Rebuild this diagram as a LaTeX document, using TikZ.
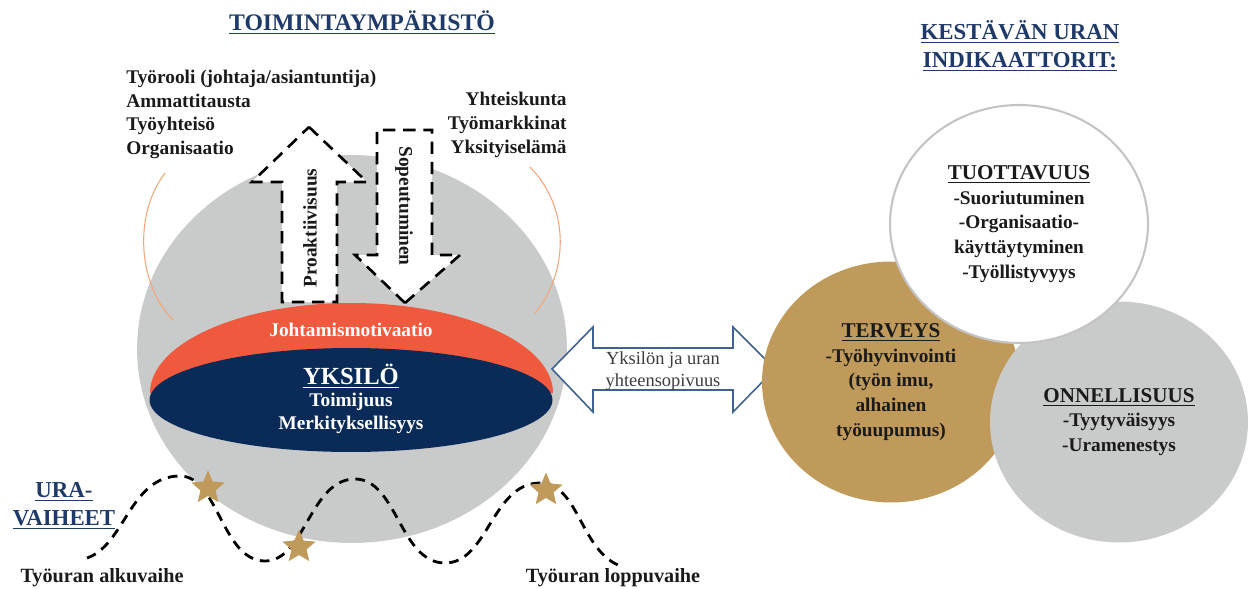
\documentclass[tikz,border=0pt]{standalone}
\usepackage{fontspec}
\setmainfont{Liberation Serif}
\usepackage{xcolor}
\usepackage{tikz}
\usetikzlibrary{shapes.geometric}
\definecolor{bubble}{HTML}{C9CACA}
\definecolor{drive}{HTML}{EF5A3F}
\definecolor{selfblue}{HTML}{0A2B58}
\definecolor{gold}{HTML}{C09A5B}
\definecolor{titleblue}{HTML}{1F3A68}
\definecolor{fitblue}{HTML}{3F6290}
\definecolor{arcline}{HTML}{F2A679}
\definecolor{ring}{HTML}{C4C4C4}
\definecolor{ink}{HTML}{1A1A1A}
\tikzset{
  body/.style={text=ink, font=\bfseries\fontsize{11}{13.5}\selectfont},
  heading/.style={text=titleblue, font=\bfseries\fontsize{13.5}{16}\selectfont, align=center},
  inner/.style={text=white, font=\bfseries\fontsize{11}{13}\selectfont, align=center},
  flowarrow/.style={draw=black, fill=white, line width=1.5pt, dash pattern=on 7pt off 4.5pt, line join=miter},
  fitarrow/.style={draw=fitblue, fill=white, line width=0.9pt, line join=miter},
  wave/.style={draw=black, line width=1.6pt, dash pattern=on 5.5pt off 4pt},
  bracket/.style={draw=arcline, line width=0.6pt},
  goal/.style={ellipse, inner sep=0pt, minimum width=5.16cm, minimum height=4.82cm,
    align=center, text=ink, font=\bfseries\fontsize{11}{14}\selectfont},
  prize/.style={star, star points=5, star point ratio=2.2, fill=gold, inner sep=0pt, minimum size=0.7cm}
}
\newcommand{\goalhead}[1]{{\fontsize{12}{14}\selectfont\underline{#1}}}

\begin{document}
\begin{tikzpicture}[x=0.02cm, y=-0.02cm]
  \useasboundingbox (0,0) rectangle (1250,588);

  \node[ellipse, fill=bubble, inner sep=0pt, minimum width=8.6cm, minimum height=7.76cm] (env) at (352,349) {};

  \draw[bracket] (165,173) .. controls (133,215) and (138,285) .. (173,320);
  \draw[bracket] (530,167) .. controls (572,210) and (567,275) .. (535,313);

  \fill[drive] (150,393) arc[start angle=180, end angle=360, x radius=201.5, y radius=90] -- cycle;
  \node[ellipse, fill=selfblue, inner sep=0pt, minimum width=8.06cm, minimum height=2.08cm] (self) at (351,400) {};

  \node[inner] (motiv) at (351,330) {Johtamismotivaatio};
  \node[inner, font=\bfseries\fontsize{14}{16}\selectfont] (yksilo) at (351,376) {\underline{YKSILÖ}};
  \node[inner] (agency) at (351,413.5) {Toimijuus\\Merkityksellisyys};

  \coordinate (upTip) at (309,127);
  \coordinate (downTip) at (405,303);
  \draw[flowarrow] (upTip) -- ++(58,55) -- ++(-30,0) -- ++(0,120) -- ++(-55,0) -- ++(0,-120) -- ++(-30,0) -- cycle;
  \draw[flowarrow] (downTip) -- ++(55,-48) -- ++(-28,0) -- ++(0,-125) -- ++(-55,0) -- ++(0,125) -- ++(-22,0) -- cycle;
  \node[body, rotate=90] (proact) at (310,228) {Proaktiivisuus};
  \node[body, rotate=-90] (adapt) at (404,206) {Sopeutuminen};

  \node[heading] (envtitle) at (362,23) {\underline{TOIMINTAYMPÄRISTÖ}};
  \node[body, align=left, anchor=west, inner sep=0pt] (near) at (126,114.5)
    {Työrooli (johtaja/asiantuntija)\\Ammattitausta\\Työyhteisö\\Organisaatio};
  \node[body, align=right, anchor=east, inner sep=0pt] (far) at (567,125)
    {Yhteiskunta\\Työmarkkinat\\Yksityiselämä};

  \coordinate (fitL) at (552,369);
  \coordinate (fitR) at (775,369);
  \draw[fitarrow] (fitL) -- ++(41,-42) -- ++(0,21) -- ++(140,0) -- ++(0,-21) -- (fitR)
    -- ++(-42,43) -- ++(0,-22) -- ++(-140,0) -- ++(0,22) -- cycle;
  \node[text=ink!85, font=\fontsize{10.5}{12.5}\selectfont, align=center] (fit) at (663,371)
    {Yksilön ja uran\\yhteensopivuus};

  \node[goal, fill=gold] (health) at (891,382)
    {\goalhead{TERVEYS}\\-Työhyvinvointi\\(työn imu,\\alhainen\\työuupumus)};
  \node[goal, fill=bubble] (happy) at (1119,422)
    {\goalhead{ONNELLISUUS}\\-Tyytyväisyys\\-Uramenestys};
  \node[goal, fill=white, draw=ring, line width=1.2pt, minimum height=4.76cm] (prod) at (1019,224)
    {\goalhead{TUOTTAVUUS}\\-Suoriutuminen\\-Organisaatio-\\käyttäytyminen\\-Työllistyvyys};

  \node[heading, font=\bfseries\fontsize{13}{16}\selectfont] (goaltitle) at (1020,46)
    {\underline{KESTÄVÄN URAN}\\\underline{INDIKAATTORIT:}};

  \draw[wave] (87,558) .. controls (125,545) and (130,476) .. (180,476)
    .. controls (218,476) and (222,561) .. (265,561)
    .. controls (305,561) and (310,479) .. (355,479)
    .. controls (397,479) and (400,563) .. (445,563)
    .. controls (488,563) and (492,483) .. (540,483)
    .. controls (578,483) and (580,548) .. (618,565);
  \node[prize] (early) at (208,488) {};
  \node[prize] (mid) at (299,547) {};
  \node[prize] (late) at (546,490) {};

  \node[heading, font=\bfseries\fontsize{13}{16}\selectfont] (phases) at (64,506) {\underline{URA-}\\\underline{VAIHEET}};
  \node[body, font=\bfseries\fontsize{11.5}{13}\selectfont] (first) at (102,578) {Työuran alkuvaihe};
  \node[body, font=\bfseries\fontsize{11.5}{13}\selectfont] (last) at (613,578) {Työuran loppuvaihe};
\end{tikzpicture}
\end{document}
